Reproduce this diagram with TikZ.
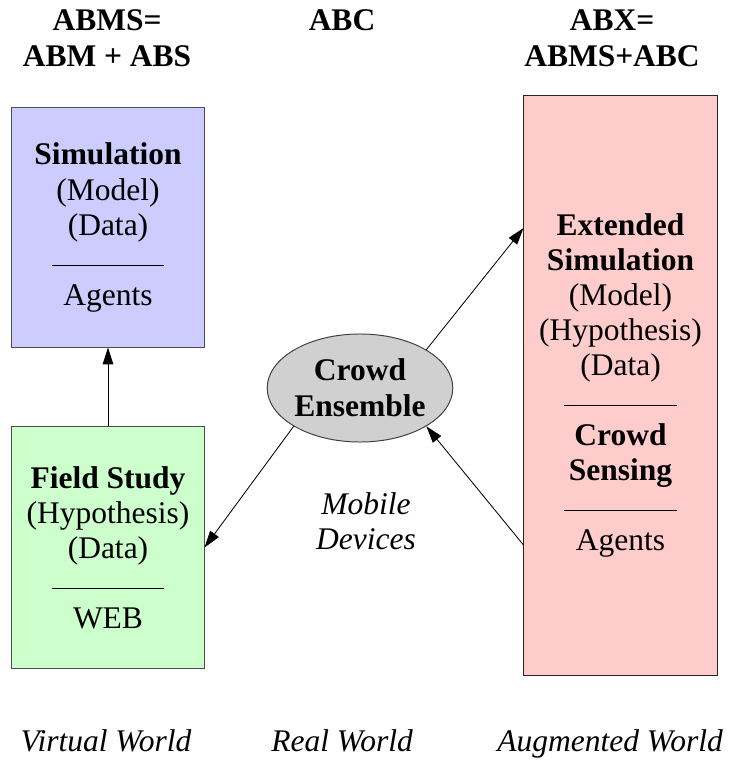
\documentclass[tikz,border=0pt]{standalone}
\usepackage{fontspec}
\setmainfont{Liberation Serif}
\usetikzlibrary{shapes.geometric, arrows.meta, calc}
\definecolor{virtblue}{RGB}{204, 204, 255}
\definecolor{fieldgreen}{RGB}{204, 255, 204}
\definecolor{augred}{RGB}{255, 204, 204}
\definecolor{crowdgray}{RGB}{208, 208, 208}
\newcommand{\sepline}{\rule[3pt]{2.8cm}{0.8pt}}

\begin{document}
\begin{tikzpicture}[x=0.025cm, y=-0.025cm,
  bigfont/.style={font=\fontsize{22.4}{24.9}\selectfont},
  headfont/.style={font=\fontsize{22.4}{25.5}\selectfont\bfseries},
  worldfont/.style={font=\fontsize{22.4}{24.9}\selectfont\itshape},
  worldbox/.style={draw=black!70, line width=0.7pt, bigfont, align=center, minimum width=4.8cm, inner sep=0pt},
  flow/.style={-{Triangle[length=12pt, width=7.5pt]}, line width=0.6pt}]
  \useasboundingbox (0,0) rectangle (737,760);

  % Headers
  \node[headfont, align=center] (habms) at (107, 38) {ABMS=\\ABM + ABS};
  \node[headfont] (habc) at (342, 20.5) {ABC};
  \node[headfont, align=center] (habx) at (612, 38) {ABX=\\ABMS+ABC};

  % Worlds
  \node[worldbox, fill=virtblue, minimum height=5.975cm] (sim) at (108, 227.5) {\textbf{Simulation}\\(Model)\\(Data)\\\sepline\\Agents};
  \node[worldbox, fill=fieldgreen, minimum height=6.025cm] (field) at (108, 547.5) {\textbf{Field Study}\\(Hypothesis)\\(Data)\\\sepline\\WEB};
  \node[worldbox, fill=augred, draw=black!85, minimum width=4.825cm, minimum height=14.475cm] (ext) at (620.5, 385.5) {\textbf{Extended}\\\textbf{Simulation}\\(Model)\\(Hypothesis)\\(Data)\\\sepline\\\textbf{Crowd}\\\textbf{Sensing}\\\sepline\\Agents};
  \node[ellipse, draw=black!75, line width=0.7pt, fill=crowdgray, minimum width=4.55cm, minimum height=2.7cm, inner sep=0pt, headfont, align=center] (crowd) at (360, 388) {Crowd\\Ensemble};
  \node[worldfont, align=center] (mobile) at (366, 521) {Mobile\\Devices};

  \draw[flow] (field) -- (sim);
  \draw[flow] (crowd.30) -- ($(ext.west)+(0,-157.5)$);
  \draw[flow] ($(ext.west)+(0,159.5)$) -- (crowd.-30);
  \draw[flow] (crowd.210) -- (field.east);

  % Bottom labels
  \node[worldfont, anchor=base] (lvirt) at (106, 751) {Virtual World};
  \node[worldfont, anchor=base] (lreal) at (342, 751) {Real World};
  \node[worldfont, anchor=base] (laug) at (610, 751) {Augmented World};
\end{tikzpicture}
\end{document}
